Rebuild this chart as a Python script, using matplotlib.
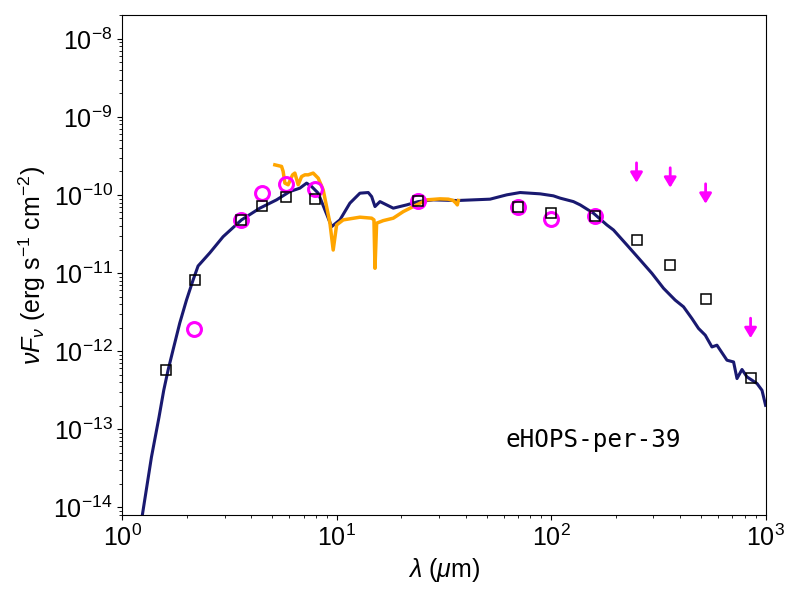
import matplotlib
matplotlib.use("Agg")
import matplotlib.pyplot as plt

plt.rcParams['font.family'] = ['Liberation Sans', 'DejaVu Sans']
plt.rcParams['mathtext.fontset'] = 'custom'
plt.rcParams['mathtext.rm'] = 'Liberation Sans'
plt.rcParams['mathtext.it'] = 'Liberation Sans:italic'
plt.rcParams['mathtext.bf'] = 'Liberation Sans:bold'

# model SED (um, erg s-1 cm-2)
model_wav = [1.217, 1.366, 1.482, 1.559, 1.633, 1.722, 1.851, 1.990, 2.136, 2.254,
             2.556, 2.949, 3.593, 4.375, 5.236, 6.04, 6.725, 7.23, 7.63, 8.19,
             8.80, 9.46, 10.34, 11.51, 12.82, 14.02, 14.54, 15.07, 15.90, 18.34,
             21.18, 23.99, 28.18, 36.26, 51.86, 62.04, 71.6, 88.8, 102.4, 110.1,
             126.9, 136.5, 157.4, 181.8, 195.2, 225.4, 260.0, 294.9, 334.2, 378.6,
             414.2, 453.0, 486.6, 523.0, 562.0, 593.0, 660.5, 709.0, 735.5, 776.0,
             819.0, 912.0, 962.0, 1000.0]
model_flux = [5.82e-15, 4.38e-14, 1.43e-13, 3.15e-13, 5.69e-13, 1.03e-12, 2.28e-12, 4.50e-12, 8.13e-12, 1.23e-11,
              1.81e-11, 2.92e-11, 4.79e-11, 6.77e-11, 8.65e-11, 1.106e-10, 1.222e-10, 1.417e-10, 1.282e-10, 1.054e-10,
              6.44e-11, 3.93e-11, 4.79e-11, 7.85e-11, 1.054e-10, 1.074e-10, 9.53e-11, 7.10e-11, 8.22e-11, 6.77e-11,
              7.46e-11, 8.22e-11, 8.65e-11, 8.48e-11, 8.83e-11, 1.003e-10, 1.074e-10, 1.033e-10, 9.74e-11, 9.10e-11,
              8.22e-11, 7.46e-11, 5.84e-11, 4.13e-11, 3.56e-11, 2.29e-11, 1.47e-11, 9.91e-12, 6.37e-12, 4.50e-12,
              3.69e-12, 2.62e-12, 1.95e-12, 1.60e-12, 1.13e-12, 1.19e-12, 7.64e-13, 7.26e-13, 4.45e-13, 5.81e-13,
              4.67e-13, 3.84e-13, 3.15e-13, 2.02e-13]

# IRS spectrum
irs_wav = [5.14, 5.525, 5.62, 5.725, 5.93, 6.22, 6.375, 6.605, 6.85, 7.10,
           7.355, 7.76, 8.19, 8.64, 8.96, 9.29, 9.62, 9.98, 10.71, 12.82,
           14.54, 14.90, 15.07, 15.34, 16.47, 18.34, 20.42, 22.74, 26.25, 30.28,
           33.12, 34.95, 35.97, 36.48, 36.88]
irs_flux = [2.43e-10, 2.32e-10, 2.00e-10, 1.417e-10, 1.35e-10, 1.81e-10, 1.905e-10, 1.35e-10, 1.72e-10, 1.81e-10,
            1.81e-10, 1.905e-10, 1.64e-10, 1.162e-10, 7.10e-11, 4.35e-11, 1.97e-11, 4.13e-11, 4.79e-11, 5.19e-11,
            5.04e-11, 4.79e-11, 1.15e-11, 4.35e-11, 4.69e-11, 5.04e-11, 6.12e-11, 7.10e-11, 8.65e-11, 8.91e-11,
            8.83e-11, 8.48e-11, 7.85e-11, 7.46e-11, 8.48e-11]

# model photometry (squares)
sq_wav = [1.59, 2.19, 3.59, 4.46, 5.77, 7.93, 24.0, 70.3, 100.0, 160.0, 250.0, 359.0, 525.0, 851.0]
sq_flux = [5.7e-13, 8.1e-12, 4.79e-11, 7.24e-11, 9.54e-11, 9.0e-11, 8.48e-11, 7.1e-11, 5.84e-11, 5.35e-11,
           2.65e-11, 1.26e-11, 4.6e-12, 4.58e-13]

# observed photometry (circles)
obs_wav = [2.16, 3.59, 4.46, 5.77, 7.93, 24.0, 70.3, 100.0, 160.0]
obs_flux = [1.93e-12, 4.79e-11, 1.05e-10, 1.38e-10, 1.2e-10, 8.3e-11, 7.05e-11, 4.98e-11, 5.3e-11]

# upper limits
ul_wav = [250.0, 359.0, 525.0, 851.0]
ul_flux = [2.58e-10, 2.23e-10, 1.39e-10, 2.64e-12]

source_name = "eHOPS-per-39"

fig = plt.figure(figsize=(8, 6), dpi=100)
ax = fig.add_axes([0.153, 0.142, 0.804, 0.8325])

ax.plot(model_wav, model_flux, color='#191970', lw=2.2, zorder=2)
ax.plot(irs_wav, irs_flux, color='orange', lw=2.5, zorder=3)
ax.plot(obs_wav, obs_flux, 'o', mfc='none', mec='magenta', mew=2.2, ms=10, zorder=4)
ax.plot(sq_wav, sq_flux, 's', mfc='none', mec='black', mew=1.1, ms=7, zorder=5)

for w, f in zip(ul_wav, ul_flux):
    ax.annotate('', xy=(w, f * 0.555), xytext=(w, f),
                arrowprops=dict(arrowstyle='-|>,head_length=0.6,head_width=0.36',
                                color='magenta', lw=2, mutation_scale=10,
                                shrinkA=0, shrinkB=0),
                zorder=6)

ax.set_xscale('log')
ax.set_yscale('log')
ax.set_xlim(1, 1000)
ax.set_ylim(8e-15, 2e-8)

ax.set_xlabel(r'$\lambda$ ($\mu$m)', fontsize=18)
ax.set_ylabel(r'$\nu F_\nu$ (erg s$^{-1}$ cm$^{-2}$)', fontsize=18)
ax.tick_params(labelsize=18)

ax.text(0.595, 0.15, source_name, transform=ax.transAxes,
        fontsize=17.5, family='DejaVu Sans Mono', va='center')

fig.savefig('out.png', dpi=100)
